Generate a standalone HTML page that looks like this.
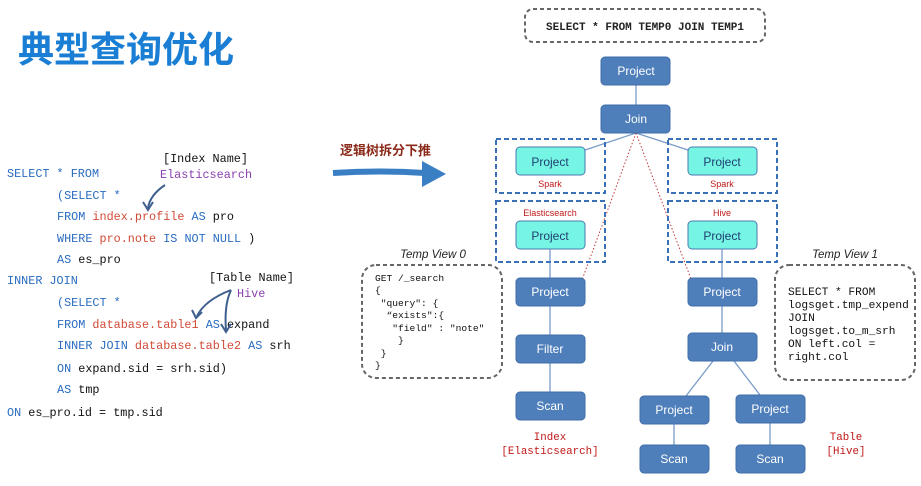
<!DOCTYPE html>
<html><head><meta charset="utf-8"><style>
body{margin:0;background:#fff}
svg text{font-family:"Liberation Sans","Noto Sans CJK SC",sans-serif;white-space:pre}
.m{font-family:"Liberation Mono",monospace !important;font-size:11.8px}
.k{fill:#2a6cc0}.r{fill:#d04a36}.b{fill:#111}
.n{fill:#4f7fbb;stroke:#3f6da8;stroke-width:1}
.c{fill:#76f5e4;stroke:#4a7ab0;stroke-width:1}
.nt{fill:#fff;font-size:12px;text-anchor:middle}
.ct{fill:#1f3f70;font-size:12px;text-anchor:middle}
.db{fill:none;stroke:#3a70b8;stroke-width:2;stroke-dasharray:5,3}
.gb{fill:none;stroke:#666;stroke-width:2;stroke-dasharray:4,3}
.ln{stroke:#7a9cc8;stroke-width:1.3;fill:none}
</style></head><body>
<svg width="921" height="481" viewBox="0 0 921 481" xml:space="preserve">
<text x="18" y="62" font-size="36" font-weight="bold" fill="#1a7fd4">典型查询优化</text>

<text class="m" x="7" y="177"><tspan class="k">SELECT * FROM</tspan></text>
<text class="m" x="57" y="199"><tspan class="k">(SELECT *</tspan></text>
<text class="m" x="57" y="220"><tspan class="k">FROM </tspan><tspan class="r">index.profile</tspan><tspan class="k"> AS </tspan><tspan class="b">pro</tspan></text>
<text class="m" x="57" y="242"><tspan class="k">WHERE </tspan><tspan class="r">pro.note</tspan><tspan class="k"> IS NOT NULL </tspan><tspan class="b">)</tspan></text>
<text class="m" x="57" y="263"><tspan class="k">AS </tspan><tspan class="b">es_pro</tspan></text>
<text class="m" x="7" y="284"><tspan class="k">INNER JOIN</tspan></text>
<text class="m" x="57" y="306"><tspan class="k">(SELECT *</tspan></text>
<text class="m" x="57" y="328"><tspan class="k">FROM </tspan><tspan class="r">database.table1</tspan><tspan class="k"> AS </tspan><tspan class="b">expand</tspan></text>
<text class="m" x="57" y="349"><tspan class="k">INNER JOIN </tspan><tspan class="r">database.table2</tspan><tspan class="k"> AS </tspan><tspan class="b">srh</tspan></text>
<text class="m" x="57" y="372"><tspan class="k">ON </tspan><tspan class="b">expand.sid = srh.sid)</tspan></text>
<text class="m" x="57" y="393"><tspan class="k">AS </tspan><tspan class="b">tmp</tspan></text>
<text class="m" x="7" y="416"><tspan class="k">ON </tspan><tspan class="b">es_pro.id = tmp.sid</tspan></text>
<text class="m b" x="163" y="162">[Index Name]</text>
<text class="m" x="160" y="178" fill="#8a3fb0">Elasticsearch</text>
<text class="m b" x="209" y="281">[Table Name]</text>
<text class="m" x="237" y="297" fill="#8a3fb0">Hive</text>
<g stroke="#3f5f8f" stroke-width="2" fill="none">
<path d="M165 185 Q150 195 148 208"/><path d="M143 202 L148 210 L153 202"/>
<path d="M231 290 Q205 300 197 316"/><path d="M192 310 L196 318 L202 312"/>
<path d="M231 290 Q224 305 226 330"/><path d="M221 324 L226 332 L231 324"/>
</g>

<text x="340" y="155" font-size="13" font-weight="bold" fill="#8b2a1a">逻辑树拆分下推</text>
<path d="M333 173 Q380 170 425 173" stroke="#3a7ec4" stroke-width="6" fill="none"/>
<path d="M422 161 L446 174 L422 187 Z" fill="#3a7ec4"/>

<rect x="525" y="9" width="240" height="33" rx="8" class="gb"/>
<text class="m" x="645" y="30" text-anchor="middle" font-weight="bold" fill="#222" style="font-size:11px">SELECT * FROM TEMP0 JOIN TEMP1</text>

<g class="ln">
<line x1="636" y1="85" x2="636" y2="105"/>
<line x1="636" y1="133" x2="585" y2="150"/>
<line x1="636" y1="133" x2="688" y2="150"/>
<line x1="550" y1="249" x2="550" y2="392"/>
<line x1="722" y1="249" x2="722" y2="333"/>
<line x1="713" y1="361" x2="686" y2="396"/>
<line x1="734" y1="361" x2="760" y2="395"/>
<line x1="674" y1="424" x2="674" y2="445"/>
<line x1="770" y1="423" x2="770" y2="445"/>
</g>
<line x1="636" y1="133" x2="582" y2="280" stroke="#c03a3a" stroke-dasharray="1.5,2" stroke-width="1"/>
<line x1="636" y1="133" x2="691" y2="279" stroke="#c03a3a" stroke-dasharray="1.5,2" stroke-width="1"/>

<rect x="496" y="139" width="109" height="54" class="db"/>
<rect x="668" y="139" width="109" height="54" class="db"/>
<rect x="496" y="201" width="109" height="61" class="db"/>
<rect x="668" y="201" width="109" height="61" class="db"/>

<rect x="601" y="57" width="69" height="28" rx="4" class="n"/><text class="nt" x="636" y="75">Project</text>
<rect x="601" y="105" width="69" height="28" rx="4" class="n"/><text class="nt" x="636" y="123">Join</text>
<rect x="516" y="147" width="69" height="28" rx="4" class="c"/><text class="ct" x="550" y="166">Project</text>
<rect x="688" y="147" width="69" height="28" rx="4" class="c"/><text class="ct" x="722" y="166">Project</text>
<text x="550" y="187" font-size="9" fill="#c01818" text-anchor="middle">Spark</text>
<text x="722" y="187" font-size="9" fill="#c01818" text-anchor="middle">Spark</text>
<text x="550" y="216" font-size="9" fill="#c01818" text-anchor="middle">Elasticsearch</text>
<text x="722" y="216" font-size="9" fill="#c01818" text-anchor="middle">Hive</text>
<rect x="516" y="221" width="69" height="28" rx="4" class="c"/><text class="ct" x="550" y="240">Project</text>
<rect x="688" y="221" width="69" height="28" rx="4" class="c"/><text class="ct" x="722" y="240">Project</text>

<rect x="516" y="278" width="69" height="28" rx="4" class="n"/><text class="nt" x="550" y="296">Project</text>
<rect x="516" y="335" width="69" height="28" rx="4" class="n"/><text class="nt" x="550" y="353">Filter</text>
<rect x="516" y="392" width="69" height="28" rx="4" class="n"/><text class="nt" x="550" y="410">Scan</text>
<rect x="688" y="278" width="69" height="28" rx="4" class="n"/><text class="nt" x="722" y="296">Project</text>
<rect x="688" y="333" width="69" height="28" rx="4" class="n"/><text class="nt" x="722" y="351">Join</text>
<rect x="640" y="396" width="69" height="28" rx="4" class="n"/><text class="nt" x="674" y="414">Project</text>
<rect x="736" y="395" width="69" height="28" rx="4" class="n"/><text class="nt" x="770" y="413">Project</text>
<rect x="640" y="445" width="69" height="28" rx="4" class="n"/><text class="nt" x="674" y="463">Scan</text>
<rect x="736" y="445" width="69" height="28" rx="4" class="n"/><text class="nt" x="770" y="463">Scan</text>

<text class="m" x="550" y="440" fill="#c01818" text-anchor="middle" style="font-size:10.8px">Index</text>
<text class="m" x="550" y="454" fill="#c01818" text-anchor="middle" style="font-size:10.8px">[Elasticsearch]</text>
<text class="m" x="846" y="440" fill="#c01818" text-anchor="middle" style="font-size:10.8px">Table</text>
<text class="m" x="846" y="454" fill="#c01818" text-anchor="middle" style="font-size:10.8px">[Hive]</text>

<text x="433" y="258" font-size="11.5" font-style="italic" fill="#222" text-anchor="middle">Temp View 0</text>
<rect x="362" y="265" width="140" height="113" rx="14" class="gb"/>
<g fill="#111">
<text class="m" style="font-size:9.6px" x="375" y="281">GET /_search</text>
<text class="m" style="font-size:9.6px" x="375" y="293">{</text>
<text class="m" style="font-size:9.6px" x="375" y="306"> "query": {</text>
<text class="m" style="font-size:9.6px" x="375" y="318">  “exists":{</text>
<text class="m" style="font-size:9.6px" x="375" y="331">   "field" : "note"</text>
<text class="m" style="font-size:9.6px" x="375" y="343">    }</text>
<text class="m" style="font-size:9.6px" x="375" y="356"> }</text>
<text class="m" style="font-size:9.6px" x="375" y="368">}</text>
</g>
<text x="845" y="258" font-size="11.5" font-style="italic" fill="#222" text-anchor="middle">Temp View 1</text>
<rect x="775" y="265" width="140" height="115" rx="14" class="gb"/>
<g fill="#111">
<text class="m" style="font-size:11.2px" x="788" y="295">SELECT * FROM</text>
<text class="m" style="font-size:11.2px" x="788" y="308">logsget.tmp_expend</text>
<text class="m" style="font-size:11.2px" x="788" y="321">JOIN</text>
<text class="m" style="font-size:11.2px" x="788" y="334">logsget.to_m_srh</text>
<text class="m" style="font-size:11.2px" x="788" y="347">ON left.col =</text>
<text class="m" style="font-size:11.2px" x="788" y="360">right.col</text>
</g>
</svg>
</body></html>
